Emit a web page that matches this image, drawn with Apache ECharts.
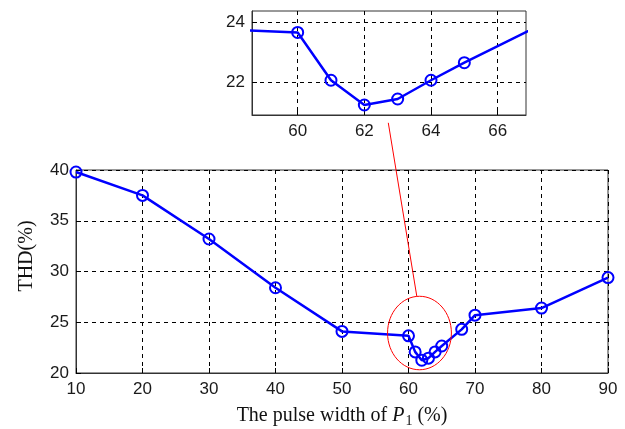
<!DOCTYPE html>
<html>
<head>
<meta charset="utf-8">
<script src="https://cdn.jsdelivr.net/npm/echarts@6/dist/echarts.min.js"></script>
<style>
    html, body { margin: 0; padding: 0; background: #fff; }
    #chart { width: 625px; height: 429px; }
</style>
</head>
<body>
<div id="chart"></div>
<script>
    // pulse width of P1 (%) and THD (%)
    const pulseWidth = [10, 20, 30, 40, 50, 60, 61, 62, 63, 64, 65, 68, 70, 80, 90]
    const thd = [39.8, 37.5, 33.2, 28.4, 24.1, 23.66, 22.08, 21.26, 21.46, 22.08, 22.66, 24.3, 25.7, 26.4, 29.4]

    const mainXTicks = [10, 20, 30, 40, 50, 60, 70, 80, 90]
    const mainYTicks = [20, 25, 30, 35, 40]
    const insetXTicks = [60, 62, 64, 66]
    const insetYTicks = [22, 24]
    const insetXRange = [58.63, 66.85]
    const insetYRange = [20.93, 24.37]

    // red zoom marker: ellipse (centre, half-size) and leader line, in main-axis units
    const zoomCenter = [61.65, 23.94]
    const zoomRadius = [4.8, 3.62]
    const leaderFrom = [56.96, 44.65]
    const leaderTo = [61.25, 27.55]

    const points = pulseWidth.map((x, i) => [x, thd[i]])

    const chart = echarts.init(document.getElementById('chart'))

    const tickFont = {
        color: '#1a1a1a',
        fontFamily: 'Liberation Sans, Arial, sans-serif',
        fontSize: 17
    }
    const dashed = { color: '#000', width: 1, type: [4, 4] }

    function valueAxis(idx, range, ticks, isX) {
        return {
            type: 'value',
            gridIndex: idx,
            min: range[0],
            max: range[1],
            axisLine: { show: true, onZero: false, lineStyle: { color: '#333', width: 1 } },
            axisTick: { show: true, inside: true, length: 5, customValues: ticks, lineStyle: { color: '#000' } },
            axisLabel: Object.assign({ margin: isX ? 8 : 7, customValues: ticks }, tickFont),
            splitLine: { show: true, lineStyle: dashed }
        }
    }

    const lineStyle = { color: '#0000ff', width: 2.5 }
    const itemStyle = { color: 'rgba(0,0,0,0)', borderColor: '#0000ff', borderWidth: 2 }

    const option = {
        animation: false,
        grid: [
            { left: 76, right: 17, top: 170, bottom: 56, show: true, borderColor: '#333', borderWidth: 1, backgroundColor: 'transparent' },
            { left: 252, right: 99, top: 11, bottom: 314, show: true, borderColor: '#333', borderWidth: 1, backgroundColor: 'transparent' }
        ],
        xAxis: [
            Object.assign(valueAxis(0, [10, 90], mainXTicks, true), {
                interval: 10,
                name: 'The pulse width of {i|P}{s|1} (%)',
                nameLocation: 'middle',
                nameGap: 31,
                nameTextStyle: {
                    color: '#111',
                    fontFamily: 'Liberation Serif, Times New Roman, serif',
                    fontSize: 20,
                    rich: {
                        i: { fontFamily: 'Liberation Serif, Times New Roman, serif', fontStyle: 'italic', fontSize: 20, color: '#111' },
                        s: { fontFamily: 'Liberation Serif, Times New Roman, serif', fontSize: 14, color: '#111', verticalAlign: 'bottom', padding: [10, 0, 0, 1] }
                    }
                }
            }),
            valueAxis(1, insetXRange, insetXTicks, true)
        ],
        yAxis: [
            Object.assign(valueAxis(0, [20, 40], mainYTicks, false), { interval: 5 }),
            valueAxis(1, insetYRange, insetYTicks, false)
        ],
        graphic: [
            {
                type: 'text',
                x: 27,
                y: 256,
                rotation: Math.PI / 2,
                style: {
                    text: 'THD(%)',
                    fill: '#111',
                    font: '20px "Liberation Serif", "Times New Roman", serif',
                    align: 'center',
                    verticalAlign: 'middle'
                }
            }
        ],
        series: [
            {
                type: 'line',
                xAxisIndex: 0,
                yAxisIndex: 0,
                data: points,
                clip: false,
                symbol: 'circle',
                symbolSize: 11,
                showAllSymbol: true,
                lineStyle: lineStyle,
                itemStyle: itemStyle,
                z: 3
            },
            {
                type: 'line',
                xAxisIndex: 1,
                yAxisIndex: 1,
                data: points,
                clip: true,
                symbol: 'circle',
                symbolSize: 11,
                showAllSymbol: true,
                lineStyle: lineStyle,
                itemStyle: itemStyle,
                z: 3
            },
            {
                type: 'custom',
                xAxisIndex: 0,
                yAxisIndex: 0,
                clip: false,
                silent: true,
                data: [[zoomCenter[0], zoomCenter[1]]],
                renderItem: function (params, api) {
                    const c = api.coord(zoomCenter)
                    const edge = api.coord([zoomCenter[0] + zoomRadius[0], zoomCenter[1] + zoomRadius[1]])
                    const a = api.coord(leaderFrom)
                    const b = api.coord(leaderTo)
                    return {
                        type: 'group',
                        children: [
                            {
                                type: 'ellipse',
                                shape: { cx: c[0], cy: c[1], rx: Math.abs(edge[0] - c[0]), ry: Math.abs(edge[1] - c[1]) },
                                style: { fill: 'none', stroke: '#ff0000', lineWidth: 1 }
                            },
                            {
                                type: 'line',
                                shape: { x1: a[0], y1: a[1], x2: b[0], y2: b[1] },
                                style: { stroke: '#ff0000', lineWidth: 1 }
                            }
                        ]
                    }
                },
                z: 4
            }
        ]
    }

    chart.setOption(option)
</script>
</body>
</html>
